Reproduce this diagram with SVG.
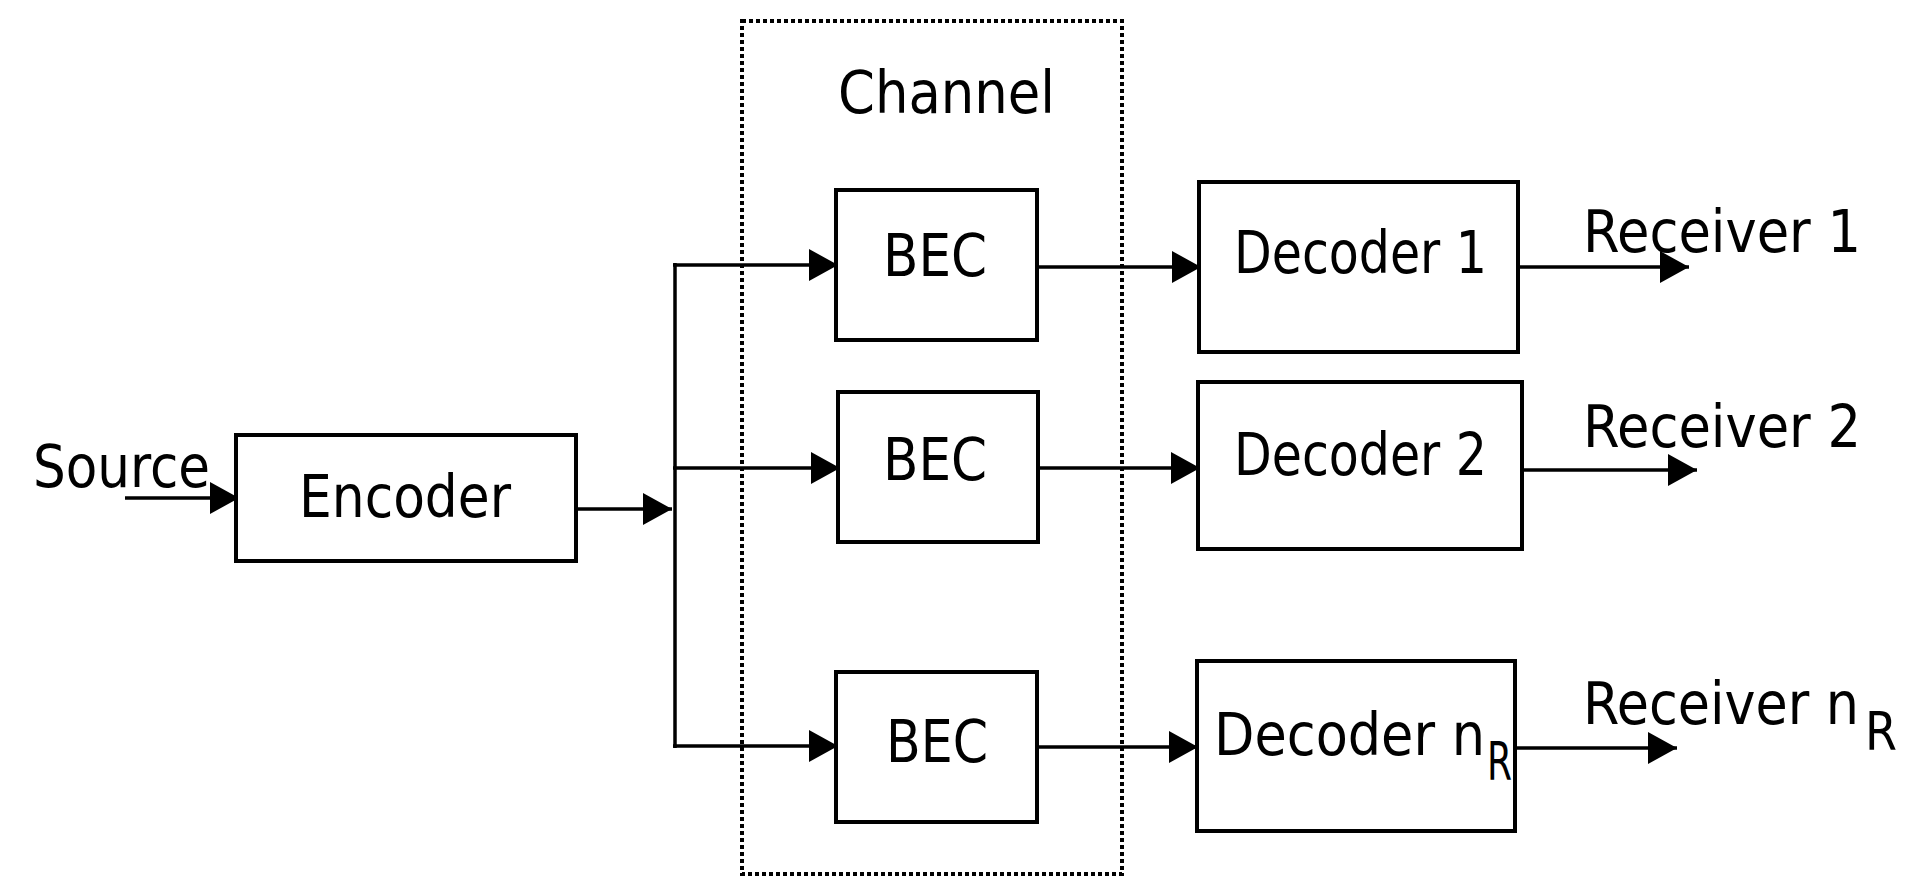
<svg xmlns="http://www.w3.org/2000/svg" width="1922" height="877" viewBox="0 0 1922 877">
<style>
.box{fill:#fff;stroke:#000;stroke-width:4}
.t{font-family:"DejaVu Sans Condensed","DejaVu Sans",sans-serif;font-size:59px;fill:#000}
.s{font-size:54px}
.c{fill:none;stroke:#000;stroke-width:3.5}
.ch{fill:none;stroke:#000;stroke-width:4;stroke-dasharray:4 3}
</style>
<defs>
<marker id="ah" markerUnits="userSpaceOnUse" markerWidth="30" markerHeight="32" refX="29" refY="16" orient="auto">
<path d="M0,0 L29,16 L0,32 Z" fill="#000"/>
</marker>
</defs>
<rect width="1922" height="877" fill="#fff"/>
<g id="channel">
<rect class="ch" x="742" y="21" width="380" height="853"/>
<text class="t" x="838" y="113" textLength="217" lengthAdjust="spacingAndGlyphs">Channel</text>
</g>
<g id="source">
<text class="t" x="33" y="487" textLength="177" lengthAdjust="spacingAndGlyphs">Source</text>
</g>
<g id="connectors">
<line class="c" x1="125" y1="498" x2="239" y2="498" marker-end="url(#ah)"/>
<line class="c" x1="576" y1="509" x2="672" y2="509" marker-end="url(#ah)"/>
<line class="c" x1="675" y1="263" x2="675" y2="748"/>
<line class="c" x1="673" y1="265" x2="838" y2="265" marker-end="url(#ah)"/>
<line class="c" x1="673" y1="468" x2="840" y2="468" marker-end="url(#ah)"/>
<line class="c" x1="673" y1="746" x2="838" y2="746" marker-end="url(#ah)"/>
<line class="c" x1="1037" y1="267" x2="1201" y2="267" marker-end="url(#ah)"/>
<line class="c" x1="1038" y1="468" x2="1200" y2="468" marker-end="url(#ah)"/>
<line class="c" x1="1037" y1="747" x2="1198" y2="747" marker-end="url(#ah)"/>
<line class="c" x1="1518" y1="267" x2="1689" y2="267" marker-end="url(#ah)"/>
<line class="c" x1="1522" y1="470" x2="1697" y2="470" marker-end="url(#ah)"/>
<line class="c" x1="1516" y1="748" x2="1677" y2="748" marker-end="url(#ah)"/>
</g>
<g id="encoder">
<rect class="box" x="236" y="435" width="340" height="126"/>
<text class="t" x="299" y="517" textLength="212" lengthAdjust="spacingAndGlyphs">Encoder</text>
</g>
<g id="bec1">
<rect class="box" x="836" y="190" width="201" height="150"/>
<text class="t" x="883" y="276" textLength="104" lengthAdjust="spacingAndGlyphs">BEC</text>
</g>
<g id="bec2">
<rect class="box" x="838" y="392" width="200" height="150"/>
<text class="t" x="883" y="480" textLength="104" lengthAdjust="spacingAndGlyphs">BEC</text>
</g>
<g id="bec3">
<rect class="box" x="836" y="672" width="201" height="150"/>
<text class="t" x="886" y="762" textLength="102" lengthAdjust="spacingAndGlyphs">BEC</text>
</g>
<g id="decoder1">
<rect class="box" x="1199" y="182" width="319" height="170"/>
<text class="t" x="1234" y="273" textLength="253" lengthAdjust="spacingAndGlyphs">Decoder 1</text>
</g>
<g id="decoder2">
<rect class="box" x="1198" y="382" width="324" height="167"/>
<text class="t" x="1234" y="475" textLength="253" lengthAdjust="spacingAndGlyphs">Decoder 2</text>
</g>
<g id="decoderN">
<rect class="box" x="1197" y="661" width="318" height="170"/>
<text class="t" x="1214" y="755"><tspan textLength="271" lengthAdjust="spacingAndGlyphs">Decoder n</tspan><tspan class="s" x="1487" y="780" textLength="25" lengthAdjust="spacingAndGlyphs">R</tspan></text>
</g>
<g id="receiver1">
<text class="t" x="1583" y="252" textLength="278" lengthAdjust="spacingAndGlyphs">Receiver 1</text>
</g>
<g id="receiver2">
<text class="t" x="1583" y="447" textLength="278" lengthAdjust="spacingAndGlyphs">Receiver 2</text>
</g>
<g id="receiverN">
<text class="t" x="1583" y="724"><tspan textLength="276" lengthAdjust="spacingAndGlyphs">Receiver n</tspan><tspan class="s" x="1865" y="750" textLength="32" lengthAdjust="spacingAndGlyphs">R</tspan></text>
</g>
</svg>
